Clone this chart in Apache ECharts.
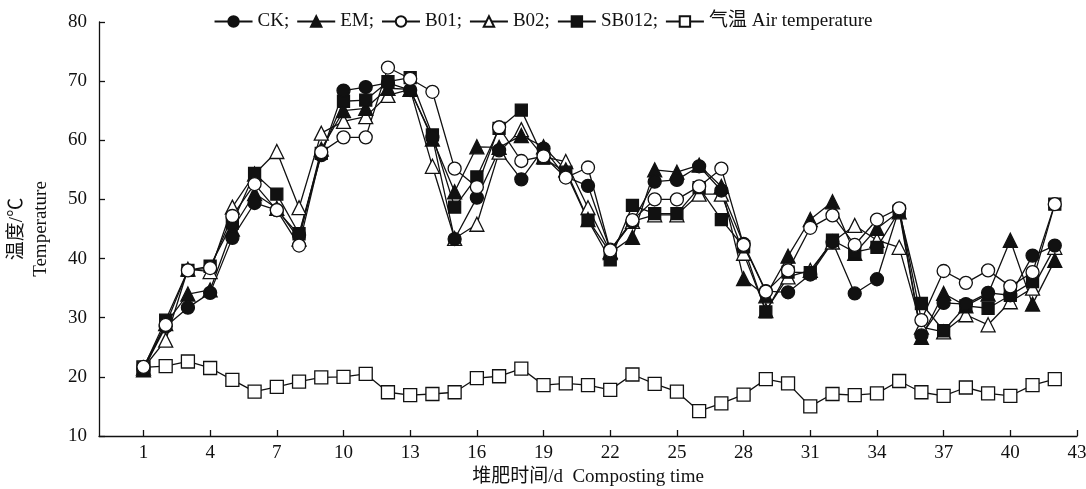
<!DOCTYPE html>
<html lang="en">
<head>
<meta charset="UTF-8">
<title>Composting temperature</title>
<script src="https://cdn.jsdelivr.net/npm/echarts@6/dist/echarts.min.js"></script>
</head>
<body style="margin:0;background:#fff;">
<div id="chart" style="width:1086px;height:489px;"></div>
<script>
// 堆肥时间 (d)
var days = [];
for (var d = 1; d <= 42; d++) days.push(d);
var tickDays = [1, 4, 7, 10, 13, 16, 19, 22, 25, 28, 31, 34, 37, 40, 43];

var ck = [21.3, 28.5, 31.7, 34.2, 43.5, 49.4, 48.2, 44.0, 57.5, 68.4, 69.0, 69.7, 68.5, 60.5, 43.3, 50.3, 58.3, 53.4, 58.6, 53.8, 52.3,
          41.5, 46.2, 53.0, 53.3, 55.6, 51.5, 42.5, 34.5, 34.3, 37.3, 42.8, 34.1, 36.5, 48.4, 27.0, 32.5, 32.3, 34.2, 33.8, 40.5, 42.2];
var em = [21.2, 29.0, 34.0, 34.7, 45.0, 51.0, 48.5, 43.3, 58.5, 65.0, 65.4, 68.8, 68.6, 60.2, 51.3, 58.9, 58.8, 60.8, 58.9, 55.0, 46.6,
          41.0, 43.6, 55.0, 54.6, 55.8, 52.2, 36.6, 33.7, 40.4, 46.6, 49.6, 40.9, 45.1, 47.9, 26.7, 34.1, 32.0, 34.0, 43.1, 32.3, 39.7];
var b01 = [21.7, 28.8, 38.0, 38.4, 47.2, 52.6, 48.2, 42.2, 58.0, 60.5, 60.5, 72.3, 70.4, 68.2, 55.2, 52.1, 62.2, 56.5, 57.3, 53.7, 55.4,
           41.4, 46.5, 50.0, 50.0, 52.2, 55.2, 42.3, 34.4, 38.0, 45.2, 47.3, 42.3, 46.6, 48.5, 29.6, 37.9, 35.9, 38.0, 35.3, 37.7, 49.2];
var b02 = [21.5, 26.2, 38.2, 37.8, 48.7, 54.3, 58.1, 48.6, 61.2, 63.2, 64.0, 67.6, 68.6, 55.6, 43.4, 45.8, 58.0, 61.8, 57.2, 56.4, 48.6,
           41.2, 46.3, 47.4, 47.4, 50.9, 50.9, 40.9, 31.2, 36.9, 38.0, 42.8, 45.6, 43.1, 41.9, 28.4, 27.6, 30.5, 28.8, 32.7, 35.0, 41.9];
var sb012 = [21.5, 29.6, 38.0, 38.7, 46.0, 54.4, 50.9, 44.2, 57.8, 66.6, 66.8, 69.9, 70.6, 60.9, 48.7, 53.8, 62.0, 65.1, 57.0, 54.6, 46.5,
             39.8, 49.0, 47.6, 47.6, 52.0, 46.6, 42.0, 31.0, 37.7, 37.6, 43.1, 41.1, 41.9, 48.0, 32.4, 27.8, 32.0, 31.6, 33.8, 36.1, 49.2];
var air = [21.6, 21.8, 22.6, 21.5, 19.5, 17.5, 18.3, 19.2, 19.9, 20.0, 20.5, 17.4, 16.9, 17.1, 17.4, 19.8, 20.1, 21.4, 18.6, 18.9, 18.6,
           17.8, 20.4, 18.8, 17.5, 14.2, 15.5, 17.0, 19.6, 18.9, 15.0, 17.1, 16.9, 17.2, 19.3, 17.4, 16.8, 18.2, 17.2, 16.8, 18.6, 19.6];

var serif = 'Liberation Serif, Noto Sans CJK SC';

function pairs(vals) {
    return days.map(function (d, i) { return [d, vals[i]]; });
}

function mk(name, vals, symbol, filled, size) {
    return {
        name: name,
        type: 'line',
        data: pairs(vals),
        symbol: symbol,
        symbolSize: size,
        showAllSymbol: true,
        lineStyle: { color: '#111', width: 1.3 },
        itemStyle: { color: filled ? '#111' : '#fff', borderColor: '#111', borderWidth: 1.3 },
        emphasis: { disabled: true }
    };
}

var chart = echarts.init(document.getElementById('chart'));
chart.setOption({
    animation: false,
    backgroundColor: '#fff',
    textStyle: { fontFamily: serif, color: '#111' },
    grid: { left: 99, right: 9, top: 22, bottom: 53, outerBoundsMode: 'none', containLabel: false },
    legend: {
        top: 7,
        left: 'center',
        itemWidth: 38,
        itemHeight: 13,
        itemGap: 7,
        textStyle: { fontFamily: serif, fontSize: 19, color: '#111' },
        data: ['CK;', 'EM;', 'B01;', 'B02;', 'SB012;', '气温 Air temperature']
    },
    xAxis: {
        type: 'value',
        min: -1,
        max: 43,
        name: '堆肥时间/d  Composting time',
        nameLocation: 'middle',
        nameGap: 32,
        nameTextStyle: { fontFamily: serif, fontSize: 19, color: '#111' },
        splitLine: { show: false },
        axisLine: { onZero: false, lineStyle: { color: '#111', width: 1.3 } },
        axisTick: { inside: true, length: 6, customValues: tickDays, lineStyle: { color: '#111', width: 1.3 } },
        axisLabel: { customValues: tickDays, fontSize: 19, color: '#111', margin: 8, fontFamily: serif }
    },
    yAxis: {
        type: 'value',
        min: 10,
        max: 80,
        interval: 10,
        name: '温度/℃\nTemperature',
        nameLocation: 'middle',
        nameRotate: 90,
        nameGap: 46,
        nameTextStyle: { fontFamily: serif, fontSize: 19, color: '#111', lineHeight: 24 },
        splitLine: { show: false },
        axisLine: { show: true, onZero: false, lineStyle: { color: '#111', width: 1.3 } },
        axisTick: { show: true, inside: true, length: 6, lineStyle: { color: '#111', width: 1.3 } },
        axisLabel: { fontSize: 19, color: '#111', margin: 12, fontFamily: serif }
    },
    series: [
        mk('气温 Air temperature', air, 'rect', false, 13),
        mk('B02;', b02, 'triangle', false, 14),
        mk('EM;', em, 'triangle', true, 14),
        mk('SB012;', sb012, 'rect', true, 12),
        mk('CK;', ck, 'circle', true, 13),
        mk('B01;', b01, 'circle', false, 13)
    ]
});
</script>
</body>
</html>
